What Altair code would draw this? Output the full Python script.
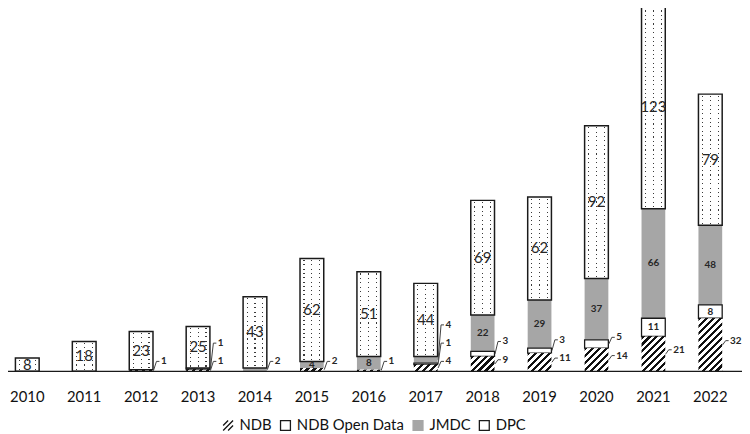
import math
import altair as alt
import pandas as pd

# ---------------- data ----------------
years = [2010, 2011, 2012, 2013, 2014, 2015, 2016, 2017, 2018, 2019, 2020, 2021, 2022]
ndb = [0, 0, 1, 1, 0, 2, 1, 4, 9, 11, 14, 21, 32]
ndb_open = [0, 0, 0, 1, 0, 0, 0, 1, 3, 3, 5, 11, 8]
jmdc = [0, 0, 0, 0, 2, 4, 8, 4, 22, 29, 37, 66, 48]
dpc = [8, 18, 23, 25, 43, 62, 51, 44, 69, 62, 92, 123, 79]
series_names = ["NDB", "NDB Open Data", "JMDC", "DPC"]

# ---------------- layout constants ----------------
PLOT_W = 742
PLOT_H = 365
Y_MAX = 217.5
PX = PLOT_H / Y_MAX          # pixels per unit
STEP = 57.54
PAD_INNER = 0.583
PAD_OUTER = 0.1303
BAR_W = (1 - PAD_INNER) * STEP
RANGE_END = STEP * (len(years) - PAD_INNER + 2 * PAD_OUTER)
FONT = "Lato"

# ---------------- long table ----------------
rows = []
for i, yr in enumerate(years):
    vals = dict(zip(series_names, [ndb[i], ndb_open[i], jmdc[i], dpc[i]]))
    base = 0
    prev_label = None
    n_out = 0
    for s in series_names:
        v = vals[s]
        if v == 0:
            continue
        y0, y1 = base, base + v
        base = y1
        mid = (y0 + y1) / 2
        if s == "DPC":
            place = "dpc"
        elif s == "NDB":
            place = "out"
        elif v >= 8 or (s == "JMDC" and v >= 4 and n_out <= 1):
            place = "in"
        else:
            place = "out"
        label_y = None
        if place == "out":
            label_y = max(mid + 2.5, 6)
            if prev_label is not None:
                label_y = max(label_y, prev_label + 11)
            prev_label = label_y
            n_out += 1
        rows.append(dict(year=yr, series=s, value=v, y0=y0, y1=y1, mid=mid,
                         place=place, label_y=label_y))
df = pd.DataFrame(rows)

# ---------------- shared encodings ----------------
xscale = alt.Scale(range=[0, RANGE_END], paddingInner=PAD_INNER, paddingOuter=PAD_OUTER)
x_enc = alt.X("year:O", scale=xscale, sort=years,
              axis=alt.Axis(title=None, labelAngle=0, ticks=False, domain=False, grid=False,
                            labelFont=FONT, labelFontSize=15, labelColor="#111111",
                            labelPadding=18))
yscale = alt.Scale(domain=[0, Y_MAX], nice=False, zero=True)
y_enc = alt.Y("y1:Q", scale=yscale, axis=None)
y2_enc = alt.Y2("y0:Q")

WHITE = "#ffffff"
CLEAR = "rgba(255,255,255,0)"
DOT = "#3a3a3a"


def hatch_gradient(h, w=BAR_W, spacing=7.0, frac=0.45):
    s = (w + h) / (w * w + h * h)
    n = (w + h) / spacing
    stops = []
    k = 0
    while k / n < 1:
        a = k / n
        b = min((k + frac) / n, 1)
        c = min((k + 1) / n, 1)
        stops += [dict(offset=a, color="#111111"), dict(offset=b, color="#111111"),
                  dict(offset=b, color=WHITE), dict(offset=c, color=WHITE)]
        k += 1
    return dict(gradient="linear", x1=0, y1=0, x2=w * s, y2=h * s, stops=stops)


def row_gradient(h, period=4.4, thick=1.1):
    n = max(1, round(h / period))
    d = thick / h
    stops = [dict(offset=0, color=WHITE)]
    for k in range(n):
        c = (k + 0.5) / n
        stops += [dict(offset=c - d / 2, color=WHITE), dict(offset=c - d / 2, color=DOT),
                  dict(offset=c + d / 2, color=DOT), dict(offset=c + d / 2, color=WHITE)]
    stops.append(dict(offset=1, color=WHITE))
    return dict(gradient="linear", x1=0, y1=0, x2=0, y2=1, stops=stops)


def col_gradient(w=BAR_W, cols=(4, 12, 20), thick=1.1):
    g = thick / w
    stops = [dict(offset=0, color=WHITE)]
    for cx in cols:
        c = cx / w
        stops += [dict(offset=c - g / 2, color=WHITE), dict(offset=c - g / 2, color=CLEAR),
                  dict(offset=c + g / 2, color=CLEAR), dict(offset=c + g / 2, color=WHITE)]
    stops.append(dict(offset=1, color=WHITE))
    return dict(gradient="linear", x1=0, y1=0, x2=1, y2=0, stops=stops)


layers = []

# JMDC (grey)
layers.append(alt.Chart(df[df.series == "JMDC"]).mark_bar(fill="#a6a6a6")
              .encode(x=x_enc, y=y_enc, y2=y2_enc))
# NDB Open Data (white, outlined)
layers.append(alt.Chart(df[df.series == "NDB Open Data"])
              .mark_bar(fill=WHITE, stroke="#1a1a1a", strokeWidth=1.3)
              .encode(x=x_enc, y=y_enc, y2=y2_enc))
# NDB (hatched) - one layer per bar so that the stripe spacing is constant
for _, r in df[df.series == "NDB"].iterrows():
    layers.append(alt.Chart(df[(df.series == "NDB") & (df.year == r.year)])
                  .mark_bar(fill=hatch_gradient(r.value * PX))
                  .encode(x=x_enc, y=y_enc, y2=y2_enc))
# DPC (dotted): rows per bar, then column mask, then outline
for _, r in df[df.series == "DPC"].iterrows():
    layers.append(alt.Chart(df[(df.series == "DPC") & (df.year == r.year)])
                  .mark_bar(fill=row_gradient(r.value * PX))
                  .encode(x=x_enc, y=y_enc, y2=y2_enc))
dpc_df = df[df.series == "DPC"]
layers.append(alt.Chart(dpc_df).mark_bar(fill=col_gradient())
              .encode(x=x_enc, y=y_enc, y2=y2_enc))
layers.append(alt.Chart(dpc_df).mark_bar(fillOpacity=0, stroke="#1a1a1a", strokeWidth=1.5)
              .encode(x=x_enc, y=y_enc, y2=y2_enc))

# baseline
layers.append(alt.Chart(pd.DataFrame({"y": [0]})).mark_rule(color="#1a1a1a", strokeWidth=1.3)
              .encode(y=alt.Y("y:Q", scale=yscale, axis=None),
                      x=alt.value(0), x2=alt.value(PLOT_W)))

# leader lines + outside labels
out_df = df[df.place == "out"]
layers.append(alt.Chart(out_df).mark_rule(color="#404040", strokeWidth=1, xOffset=12.5, x2Offset=15.5)
              .encode(x=alt.X("year:O", scale=xscale, sort=years, bandPosition=0.5),
                      x2=alt.X2("year:O", bandPosition=0.5),
                      y=alt.Y("mid:Q", scale=yscale, axis=None), y2=alt.Y2("label_y:Q")))
layers.append(alt.Chart(out_df).mark_rule(color="#404040", strokeWidth=1, xOffset=15.5, x2Offset=18.5)
              .encode(x=alt.X("year:O", scale=xscale, sort=years, bandPosition=0.5),
                      x2=alt.X2("year:O", bandPosition=0.5),
                      y=alt.Y("label_y:Q", scale=yscale, axis=None)))
layers.append(alt.Chart(out_df).mark_text(align="left", baseline="middle", dx=20, font=FONT,
                                          fontSize=10, fontWeight="bold", color="#262626")
              .encode(x=x_enc, y=alt.Y("label_y:Q", scale=yscale, axis=None), text="value:Q"))

# inside labels
layers.append(alt.Chart(df[df.place == "dpc"]).mark_text(font=FONT, fontSize=15, color="#262626",
                                                        baseline="middle")
              .encode(x=x_enc, y=alt.Y("mid:Q", scale=yscale, axis=None), text="value:Q"))
layers.append(alt.Chart(df[df.place == "in"]).mark_text(font=FONT, fontSize=10, fontWeight="bold",
                                                       color="#262626", baseline="middle")
              .encode(x=x_enc, y=alt.Y("mid:Q", scale=yscale, axis=None), text="value:Q"))

# legend (invisible points carrying colour + shape + stroke)
hatch_path = "M-1,0L0,-1M-1,1L1,-1M0,1L1,0"
leg = alt.Legend(title=None, orient="none", legendX=215, legendY=412, direction="horizontal",
                 symbolOpacity=1, symbolSize=100, symbolStrokeWidth=1.3,
                 labelFont=FONT, labelFontSize=15,
                 labelColor="#111111", labelOffset=4, columnPadding=5, padding=0)
layers.append(alt.Chart(df).mark_point(filled=True, opacity=0, strokeWidth=1.3)
              .encode(x=x_enc, y=y_enc,
                      color=alt.Color("series:N", legend=leg,
                                      scale=alt.Scale(domain=series_names,
                                                      range=["#000000", WHITE, "#a6a6a6", WHITE])),
                      stroke=alt.Stroke("series:N", legend=leg,
                                        scale=alt.Scale(domain=series_names,
                                                        range=["#111111", "#1a1a1a", "#a6a6a6", "#1a1a1a"])),
                      shape=alt.Shape("series:N", legend=leg,
                                      scale=alt.Scale(domain=series_names,
                                                      range=[hatch_path, "square", "square", "square"]))))

chart = (alt.layer(*layers)
         .properties(width=PLOT_W, height=PLOT_H, background="white",
                     padding={"top": 0, "left": 0, "right": 0, "bottom": 61},
                     autosize=alt.AutoSizeParams(type="none"))
         .configure_view(stroke=None))

chart.save("out.html", embed_options={"renderer": "svg", "actions": False})
